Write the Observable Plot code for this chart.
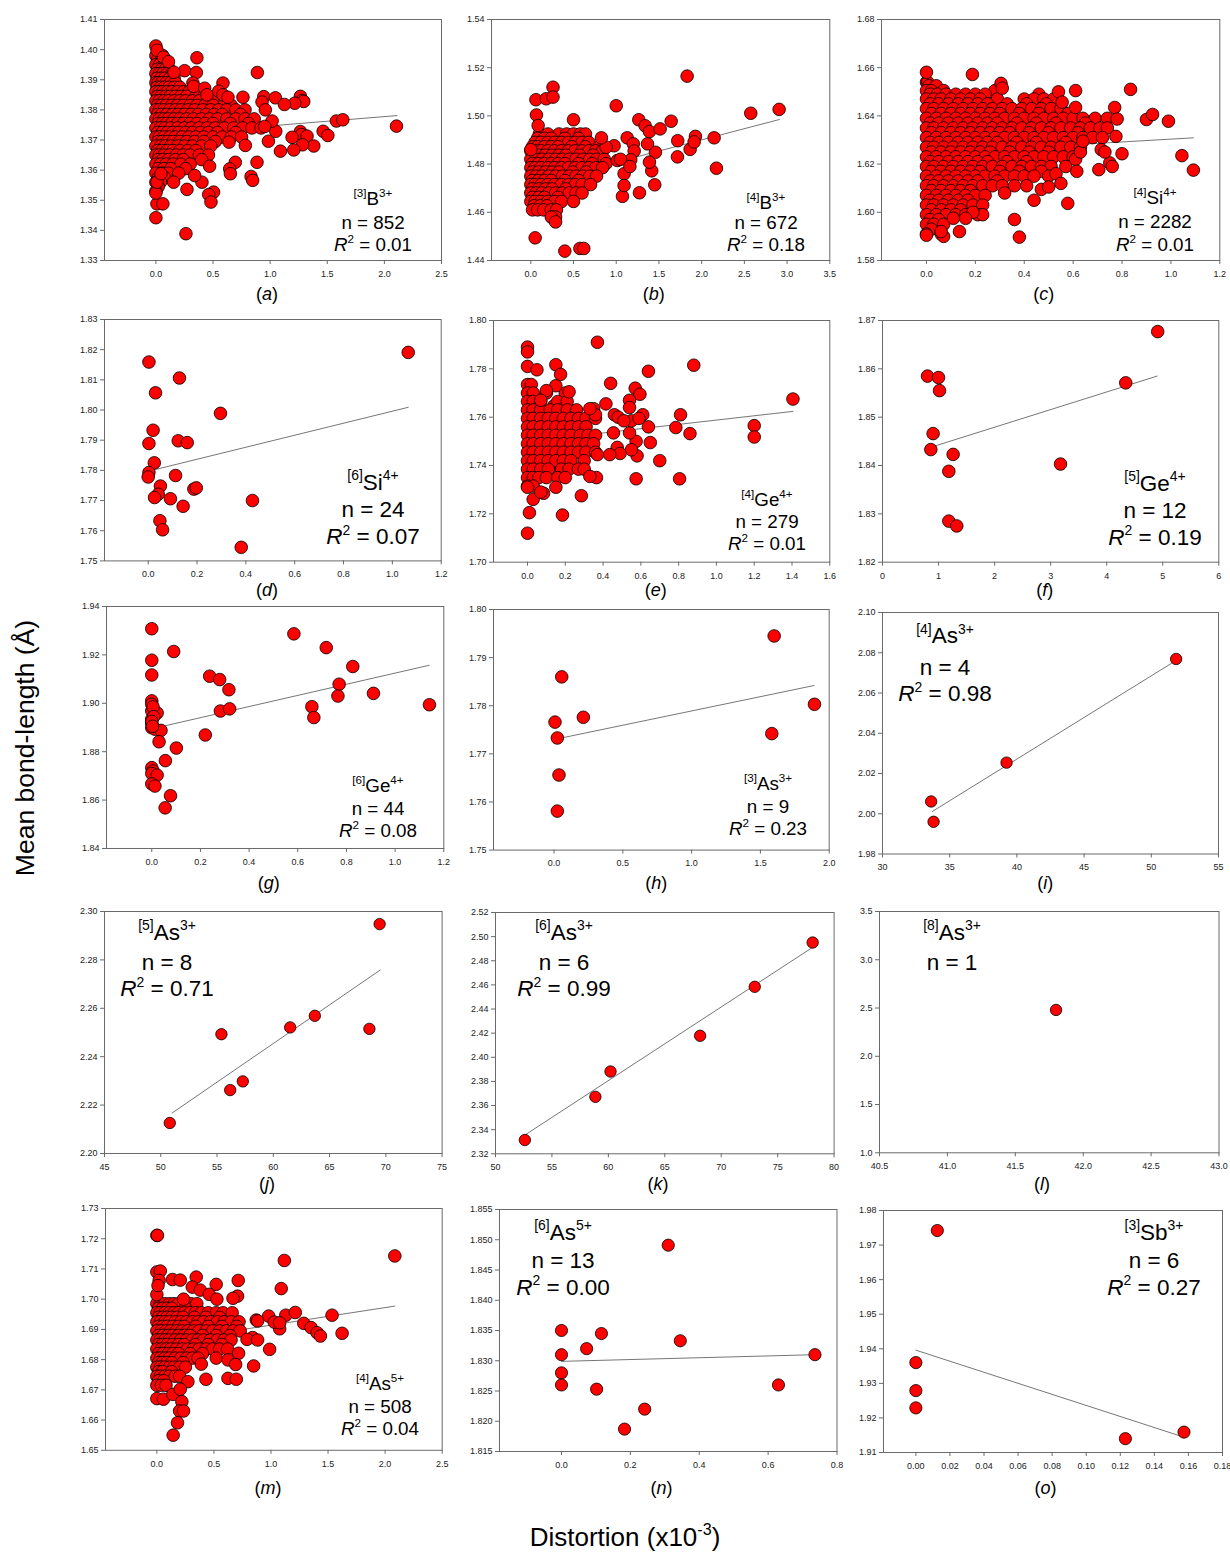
<!DOCTYPE html>
<html><head><meta charset="utf-8">
<script src="https://cdn.jsdelivr.net/npm/d3@7"></script>
<script src="https://cdn.jsdelivr.net/npm/@observablehq/plot@0.6"></script>
<style>
html,body{margin:0;padding:0;background:#fff;}
#chart{position:relative;width:1230px;height:1555px;overflow:hidden;background:#fff;}
</style>
</head><body><div id="chart"></div>
<script>
// ---------------- text content ----------------
const letters = ["a","b","c","d","e","f","g","h","i","j","k","l","m","n","o"];
const ionPre = ["[3]","[4]","[4]","[6]","[4]","[5]","[6]","[3]","[4]","[5]","[6]","[8]","[4]","[6]","[3]"];
const ionEl  = ["B","B","Si","Si","Ge","Ge","Ge","As","As","As","As","As","As","As","Sb"];
const ionCh  = ["3+","3+","4+","4+","4+","4+","4+","3+","3+","3+","3+","3+","5+","5+","3+"];
const nVals  = ["852","672","2282","24","279","12","44","9","4","8","6","1","508","13","6"];
const r2Vals = ["0.01","0.18","0.01","0.07","0.01","0.19","0.08","0.23","0.98","0.71","0.99",null,"0.04","0.00","0.27"];
const yTitle = "Mean bond-length (Å)";
const xTitle = ["Distortion (x10", "-3", ")"];

// ---------------- tick values ----------------
const a_xt=[0,0.5,1,1.5,2,2.5], a_yt=[1.33,1.34,1.35,1.36,1.37,1.38,1.39,1.40,1.41];
const b_xt=[0,0.5,1,1.5,2,2.5,3,3.5], b_yt=[1.44,1.46,1.48,1.50,1.52,1.54];
const c_xt=[0,0.2,0.4,0.6,0.8,1.0,1.2], c_yt=[1.58,1.60,1.62,1.64,1.66,1.68];
const d_xt=[0,0.2,0.4,0.6,0.8,1.0,1.2], d_yt=[1.75,1.76,1.77,1.78,1.79,1.80,1.81,1.82,1.83];
const e_xt=[0,0.2,0.4,0.6,0.8,1.0,1.2,1.4,1.6], e_yt=[1.70,1.72,1.74,1.76,1.78,1.80];
const f_xt=[0,1,2,3,4,5,6], f_yt=[1.82,1.83,1.84,1.85,1.86,1.87];
const g_xt=[0,0.2,0.4,0.6,0.8,1.0,1.2], g_yt=[1.84,1.86,1.88,1.90,1.92,1.94];
const h_xt=[0,0.5,1,1.5,2], h_yt=[1.75,1.76,1.77,1.78,1.79,1.80];
const i_xt=[30,35,40,45,50,55], i_yt=[1.98,2.00,2.02,2.04,2.06,2.08,2.10];
const j_xt=[45,50,55,60,65,70,75], j_yt=[2.20,2.22,2.24,2.26,2.28,2.30];
const k_xt=[50,55,60,65,70,75,80], k_yt=[2.32,2.34,2.36,2.38,2.40,2.42,2.44,2.46,2.48,2.50,2.52];
const l_xt=[40.5,41,41.5,42,42.5,43], l_yt=[1.0,1.5,2.0,2.5,3.0,3.5];
const m_xt=[0,0.5,1,1.5,2,2.5], m_yt=[1.65,1.66,1.67,1.68,1.69,1.70,1.71,1.72,1.73];
const n_xt=[0,0.2,0.4,0.6,0.8], n_yt=[1.815,1.820,1.825,1.830,1.835,1.840,1.845,1.850,1.855];
const o_xt=[0,0.02,0.04,0.06,0.08,0.10,0.12,0.14,0.16,0.18], o_yt=[1.91,1.92,1.93,1.94,1.95,1.96,1.97,1.98];

// ---------------- data (distortion, mean bond length) ----------------
// dense clouds: [y, [x values read along that level]]
const a_rows=[
[1.398,[0,0.03,0.06]],[1.395,[0,0.03,0.07,0.1]],[1.392,[0,0.03,0.06,0.1,0.14]],
[1.389,[0,0.02,0.05,0.09,0.13,0.17]],[1.386,[0,0.03,0.06,0.1,0.14,0.19,0.24,0.29]],
[1.383,[0,0.03,0.07,0.11,0.16,0.21,0.26,0.32,0.38,0.45,0.52,0.6]],
[1.380,[0,0.03,0.07,0.12,0.17,0.22,0.28,0.34,0.41,0.48,0.55,0.62,0.7,0.78]],
[1.377,[0,0.03,0.07,0.11,0.16,0.21,0.27,0.33,0.4,0.47,0.54,0.62,0.7,0.78,0.86]],
[1.374,[0,0.04,0.08,0.13,0.19,0.25,0.31,0.38,0.45,0.52,0.6,0.68,0.76,0.84,0.92]],
[1.371,[0,0.03,0.07,0.12,0.17,0.23,0.29,0.35,0.42,0.5,0.58,0.66,0.75]],
[1.368,[0,0.04,0.08,0.13,0.19,0.25,0.32,0.4,0.48]],
[1.365,[0,0.03,0.07,0.12,0.18,0.24,0.3,0.38,0.46]],
[1.362,[0,0.04,0.09,0.15,0.22,0.3]],[1.359,[0,0.05,0.11,0.2]],[1.356,[0,0.04]],[1.353,[0]]];
const a_rows2=[
[1.3965,[0.015,0.05,0.085]],[1.3935,[0.015,0.05,0.085,0.12]],[1.3905,[0.01,0.045,0.08,0.12,0.16]],
[1.3875,[0.01,0.04,0.075,0.115,0.16,0.21]],[1.3845,[0.015,0.045,0.085,0.125,0.17,0.22,0.27,0.35,0.42]],
[1.3815,[0.015,0.05,0.09,0.14,0.19,0.24,0.3,0.36,0.43,0.5,0.66]],
[1.3785,[0.015,0.05,0.095,0.145,0.195,0.25,0.31,0.37,0.44,0.51,0.58,0.74]],
[1.3755,[0.02,0.055,0.095,0.14,0.19,0.24,0.3,0.36,0.43,0.5,0.65,0.81]],
[1.3725,[0.015,0.055,0.1,0.15,0.2,0.26,0.32,0.39,0.46,0.54,0.7]],
[1.3695,[0.02,0.055,0.1,0.15,0.21,0.27,0.34,0.42,0.52]],
[1.3665,[0.015,0.05,0.1,0.15,0.21,0.28,0.35]],[1.3635,[0.02,0.06,0.11,0.17,0.24,0.4]],
[1.3605,[0.02,0.07,0.13,0.26]],[1.3575,[0.02,0.08]],[1.3545,[0.02]]];
const a_out=[[0,1.4012],[0.01,1.3998],[0.067,1.3975],[0.359,1.3973],[0.11,1.396],[0.251,1.393],[0.354,1.3924],[0.888,1.3924],[0.158,1.3925],[0.324,1.3889],[0.33,1.3878],[0.587,1.3889],[0.427,1.3872],[0.447,1.385],[0.55,1.3862],[0.587,1.385],[0.631,1.3842],[0.762,1.3842],[0.944,1.3844],[1.046,1.384],[1.265,1.3845],[1.28,1.3831],[1.294,1.3828],[1.215,1.3822],[1.125,1.3818],[0.929,1.3826],[0.958,1.38],[1.58,1.3763],[1.636,1.3767],[2.106,1.3746],[1.464,1.3729],[1.505,1.3715],[1.265,1.3728],[1.274,1.3718],[1.323,1.3713],[1.192,1.3709],[1.382,1.368],[1.283,1.3684],[1.207,1.3667],[1.09,1.3663],[0.985,1.3696],[1.049,1.3729],[1.017,1.3763],[0.952,1.3745],[0.885,1.3626],[0.783,1.3682],[0.695,1.3626],[0.646,1.3604],[0.652,1.3588],[0.833,1.3579],[0.847,1.3566],[0.64,1.3693],[0.47,1.3613],[0.505,1.3527],[0.462,1.3519],[0.482,1.3494],[0.403,1.356],[0.339,1.3582],[0.272,1.3536],[0.155,1.356],[0.263,1.3389],[0,1.3442],[0.009,1.3488],[0.061,1.3488],[0,1.3524],[0.009,1.356],[0.044,1.3588]];
const a_fit=[[0,1.3716],[2.11,1.3781]];

const b_rows=[
[1.4925,[0.1,0.2,0.33,0.42,0.5,0.58,0.64]],
[1.489,[0.05,0.12,0.2,0.28,0.36,0.44,0.52,0.6,0.68]],
[1.4855,[0,0.05,0.12,0.2,0.28,0.36,0.44,0.52,0.6,0.68,0.76,0.84]],
[1.482,[0,0.06,0.13,0.21,0.29,0.37,0.45,0.53,0.61,0.69,0.77,0.86]],
[1.4785,[0,0.05,0.12,0.2,0.28,0.36,0.44,0.52,0.6,0.68,0.76,0.84]],
[1.475,[0,0.06,0.13,0.21,0.29,0.37,0.45,0.53,0.61,0.69,0.77]],
[1.4715,[0,0.05,0.12,0.2,0.28,0.36,0.44,0.52,0.6,0.7]],
[1.468,[0,0.06,0.13,0.21,0.29,0.37,0.45,0.53,0.6]],
[1.4645,[0,0.05,0.12,0.2,0.28,0.36,0.5]],
[1.461,[0.02,0.08,0.15,0.24,0.3]],[1.458,[0.25,0.29]]];
const b_rows2=[
[1.4907,[0.08,0.16,0.24,0.4,0.56]],
[1.4872,[0.02,0.08,0.16,0.24,0.32,0.48,0.64,0.8]],
[1.4837,[0.02,0.09,0.17,0.25,0.33,0.41,0.57,0.73]],
[1.4802,[0.02,0.09,0.16,0.24,0.32,0.4,0.56,0.72,0.88]],
[1.4767,[0.02,0.09,0.17,0.25,0.33,0.49,0.65]],
[1.4732,[0.02,0.09,0.16,0.24,0.4,0.56]],
[1.4697,[0.02,0.09,0.17,0.25,0.41]],
[1.4662,[0.02,0.09,0.16,0.32]],[1.4627,[0.04,0.11,0.19]]];
const b_out=[[0,1.486],[0.06,1.5067],[0.066,1.5004],[0.086,1.496],[0.18,1.5071],[0.26,1.5119],[0.26,1.5078],[0.5,1.4984],[1.0,1.5042],[1.264,1.4984],[1.338,1.4959],[1.389,1.4935],[1.514,1.4946],[1.643,1.4978],[1.72,1.4897],[1.717,1.483],[1.865,1.4861],[1.927,1.4915],[1.912,1.4892],[2.146,1.4909],[2.173,1.4783],[2.575,1.5011],[2.907,1.5027],[1.83,1.5165],[1.128,1.4909],[1.272,1.4681],[1.451,1.4714],[1.416,1.4772],[1.459,1.4849],[1.389,1.4808],[1.366,1.4884],[1.2,1.4884],[1.21,1.4854],[1.17,1.4818],[1.092,1.476],[1.073,1.4666],[1.092,1.4711],[0.975,1.4876],[0.882,1.487],[0.827,1.4909],[1.014,1.4815],[0.051,1.4494],[0.398,1.4439],[0.575,1.445],[0.62,1.445],[0.24,1.458],[0.29,1.456],[1.05,1.482],[1.16,1.479]];
const b_fit=[[0,1.4715],[2.91,1.4985]];

const c_rows=[
[1.654,[0,0.005]],
[1.6505,[0,0.02,0.07,0.28]],
[1.647,[0,0.03,0.06,0.1,0.14,0.18,0.22,0.29,0.4,0.44,0.48,0.52]],
[1.643,[0,0.03,0.07,0.11,0.15,0.19,0.23,0.27,0.31,0.35,0.39,0.43,0.47,0.51,0.55]],
[1.639,[0,0.04,0.08,0.12,0.16,0.2,0.24,0.28,0.32,0.36,0.4,0.44,0.48,0.52,0.56,0.6,0.64,0.69,0.74]],
[1.635,[0,0.03,0.07,0.11,0.15,0.19,0.23,0.27,0.31,0.35,0.39,0.43,0.47,0.51,0.55,0.59,0.63,0.67,0.71,0.74]],
[1.631,[0,0.04,0.08,0.12,0.16,0.2,0.24,0.28,0.32,0.36,0.4,0.44,0.48,0.52,0.56,0.6,0.64,0.68,0.72]],
[1.627,[0,0.03,0.07,0.11,0.15,0.19,0.23,0.27,0.31,0.35,0.39,0.43,0.47,0.51,0.55,0.59,0.63]],
[1.623,[0,0.04,0.08,0.12,0.16,0.2,0.24,0.28,0.32,0.36,0.4,0.44,0.48,0.52,0.56,0.6]],
[1.619,[0,0.03,0.07,0.11,0.15,0.19,0.23,0.27,0.31,0.35,0.39,0.43,0.47,0.51,0.57]],
[1.615,[0,0.04,0.08,0.12,0.16,0.2,0.24,0.28,0.32,0.36,0.4,0.44,0.5]],
[1.611,[0,0.03,0.07,0.11,0.15,0.19,0.23,0.27,0.31,0.36,0.41]],
[1.607,[0,0.04,0.08,0.12,0.16,0.2,0.24]],
[1.603,[0,0.03,0.07,0.11,0.15,0.19,0.23]],
[1.599,[0,0.04,0.08,0.12,0.16,0.21]],
[1.595,[0,0.03,0.07]],[1.591,[0,0.06]]];
const c_rows2=[
[1.6525,[0.01,0.04]],
[1.649,[0.015,0.045,0.08,0.12,0.16,0.2,0.24,0.46]],
[1.645,[0.015,0.05,0.09,0.13,0.17,0.21,0.25,0.33,0.41,0.49]],
[1.641,[0.02,0.06,0.1,0.14,0.18,0.22,0.26,0.3,0.38,0.46,0.58]],
[1.637,[0.015,0.05,0.09,0.13,0.17,0.21,0.25,0.29,0.37,0.45,0.53,0.65]],
[1.633,[0.02,0.06,0.1,0.14,0.18,0.22,0.26,0.3,0.34,0.42,0.5,0.62]],
[1.629,[0.015,0.05,0.09,0.13,0.17,0.21,0.25,0.29,0.37,0.45,0.57]],
[1.625,[0.02,0.06,0.1,0.14,0.18,0.22,0.26,0.34,0.42,0.5]],
[1.621,[0.015,0.05,0.09,0.13,0.17,0.21,0.25,0.33,0.41]],
[1.617,[0.02,0.06,0.1,0.14,0.18,0.22,0.3,0.38,0.47]],
[1.613,[0.015,0.05,0.09,0.13,0.17,0.21,0.29]],
[1.609,[0.02,0.06,0.1,0.14,0.18]],
[1.605,[0.015,0.05,0.09,0.13,0.17]],
[1.601,[0.02,0.06,0.1,0.14]],
[1.597,[0.015,0.05]],[1.593,[0.02]]];
const c_out=[[0,1.6581],[0.188,1.6572],[0.835,1.651],[0.90,1.6385],[0.925,1.6406],[0.99,1.6378],[1.045,1.6235],[1.092,1.6175],[0.8,1.6243],[0.705,1.6177],[0.75,1.6205],[0.76,1.619],[0.44,1.605],[0.578,1.6037],[0.36,1.597],[0.38,1.5897],[0.135,1.592],[0.305,1.6535],[0.31,1.6515],[0.54,1.650],[0.61,1.6505],[0.555,1.6457],[0.61,1.6435],[0.77,1.6435],[0.78,1.6387],[0.775,1.6315],[0.715,1.626],[0.73,1.625],[0.61,1.622],[0.615,1.617],[0.63,1.625],[0.64,1.6295],[0.53,1.616],[0.55,1.612],[0.47,1.6095],[0.5,1.6105],[0.32,1.608],[0.23,1.599],[0.19,1.6],[0.16,1.5975],[0.11,1.5975],[0.07,1.59],[0.0,1.5905],[0.06,1.592]];
const c_fit=[[0,1.6245],[1.092,1.6309]];

const d_pts=[[0.003,1.8159],[0.128,1.8106],[0.030,1.8057],[0.296,1.7989],[0.020,1.7933],[0.003,1.7889],[0.123,1.7898],[0.160,1.7892],[0.025,1.7825],[0.003,1.7793],[0.0,1.7778],[0.112,1.7783],[0.050,1.7748],[0.041,1.7721],[0.026,1.7710],[0.187,1.7738],[0.197,1.7742],[0.091,1.7706],[0.143,1.7681],[0.048,1.7633],[0.059,1.7603],[0.427,1.7700],[0.381,1.7545],[1.065,1.8191]];
const d_fit=[[0.02,1.7801],[1.065,1.8009]];

const e_rows=[
[1.7735,[0,0.02]],[1.770,[0,0.03,0.1,0.2]],[1.7665,[0,0.03,0.07,0.16,0.21]],
[1.763,[0,0.03,0.07,0.12,0.16,0.21,0.26]],
[1.7595,[0,0.03,0.07,0.11,0.15,0.19,0.23,0.27,0.31,0.36]],
[1.756,[0,0.03,0.07,0.11,0.15,0.19,0.23,0.27,0.31]],
[1.7525,[0,0.03,0.07,0.11,0.15,0.19,0.23,0.28,0.32,0.36]],
[1.749,[0,0.03,0.07,0.11,0.15,0.19,0.23,0.27,0.31,0.35]],
[1.7455,[0,0.03,0.07,0.11,0.15,0.19,0.23,0.27,0.31,0.36]],
[1.742,[0,0.03,0.07,0.11,0.15,0.19,0.23,0.3]],
[1.7385,[0,0.03,0.07,0.11,0.18,0.22,0.27,0.3]],
[1.735,[0,0.03,0.06,0.1,0.16,0.2]],[1.7315,[0,0.03]]];
const e_rows2=[
[1.7647,[0.015,0.05,0.14]],[1.7612,[0.015,0.05,0.13,0.21]],[1.7577,[0.015,0.09,0.17,0.25]],
[1.7542,[0.015,0.05,0.13,0.21]],[1.7507,[0.015,0.09,0.17,0.25]],[1.7472,[0.015,0.05,0.13,0.21]],
[1.7437,[0.015,0.09,0.17]],[1.7402,[0.015,0.05,0.14]],[1.7367,[0.015,0.08]]];
const e_out=[[0,1.789],[0,1.787],[0,1.781],[0.37,1.791],[0.15,1.7817],[0.175,1.7777],[0.05,1.7796],[0.64,1.779],[0.88,1.7815],[1.405,1.7675],[1.2,1.7565],[1.2,1.7518],[0.86,1.7532],[0.81,1.761],[0.785,1.7557],[0.805,1.7345],[0.7,1.742],[0.65,1.7495],[0.575,1.7345],[0.58,1.744],[0.575,1.75],[0.55,1.7465],[0.54,1.7535],[0.55,1.7585],[0.64,1.756],[0.61,1.761],[0.59,1.7595],[0.57,1.772],[0.595,1.7695],[0.54,1.767],[0.54,1.764],[0.44,1.774],[0.415,1.7655],[0.46,1.761],[0.48,1.76],[0.51,1.7585],[0.455,1.7535],[0.475,1.7475],[0.49,1.745],[0.435,1.7445],[0.37,1.7445],[0.365,1.735],[0.33,1.7355],[0.285,1.7275],[0.185,1.7195],[0.01,1.7205],[0.0,1.712],[0.03,1.726],[0.085,1.7285],[0.07,1.729],[0.15,1.731],[0.0,1.731],[0.35,1.7635],[0.36,1.761],[0.33,1.7635],[0.22,1.7705],[0.15,1.773],[0.1,1.771],[0.07,1.767]];
const e_fit=[[0,1.7499],[1.405,1.7624]];

const f_pts=[[0.803,1.8585],[0.999,1.8582],[1.017,1.8555],[0.903,1.8466],[0.862,1.8433],[1.26,1.8423],[1.183,1.8388],[1.183,1.8285],[1.325,1.8275],[3.176,1.8403],[4.34,1.8571],[4.91,1.8677]];
const f_fit=[[0.87,1.8438],[4.9,1.8585]];

const g_pts=[[0.0,1.9308],[0.0,1.9178],[0.0,1.9117],[0.090,1.9214],[0.584,1.9287],[0.717,1.9230],[0.826,1.9152],[0.238,1.9112],[0.279,1.9098],[0.317,1.9056],[0.770,1.9079],[0.765,1.9030],[0.911,1.9041],[1.141,1.8994],[0.658,1.8986],[0.666,1.8941],[0.282,1.8968],[0.320,1.8977],[0.220,1.8869],[0.0,1.9010],[0.0,1.8996],[0.0,1.8968],[0.012,1.8955],[0.022,1.8960],[0.0,1.8934],[0.0,1.8917],[0.0,1.8899],[0.014,1.8893],[0.038,1.8888],[0.030,1.8841],[0.101,1.8815],[0.056,1.8763],[0.0,1.8734],[0.005,1.8720],[0.0,1.8710],[0.022,1.8703],[0.0,1.8667],[0.013,1.8658],[0.077,1.8618],[0.055,1.8568],[0.005,1.8985],[0.008,1.8945],[0.0,1.8925],[0.003,1.8905]];
const g_fit=[[0.05,1.8906],[1.14,1.9157]];

const h_pts=[[0.007,1.7766],[0.024,1.7733],[0.036,1.7656],[0.024,1.7581],[0.056,1.786],[0.213,1.7776],[1.583,1.7742],[1.6,1.7945],[1.893,1.7803]];
const h_fit=[[0.02,1.7731],[1.89,1.7842]];

const i_pts=[[33.62,2.0061],[33.8,1.996],[39.23,2.0254],[51.85,2.0769]];
const i_fit=[[33.7,2.0011],[51.9,2.0764]];

const j_pts=[[50.8,2.2126],[55.39,2.2493],[56.17,2.2262],[57.29,2.2298],[61.5,2.2521],[63.69,2.2569],[68.54,2.2515],[69.45,2.2948]];
const j_fit=[[51.0,2.2167],[69.5,2.2758]];

const k_pts=[[52.6,2.3314],[58.85,2.3672],[60.19,2.3882],[68.13,2.4178],[72.97,2.4584],[78.1,2.4951]];
const k_fit=[[52.5,2.3349],[78.0,2.4905]];

const l_pts=[[41.8,2.48]];

const m_rows=[
[1.6985,[0,0.03,0.07,0.11,0.15,0.19,0.3,0.35]],
[1.6955,[0,0.03,0.07,0.11,0.15,0.19,0.24,0.29,0.34,0.39,0.45,0.52,0.58,0.66]],
[1.6925,[0,0.03,0.07,0.11,0.16,0.21,0.26,0.31,0.36,0.41,0.47,0.53,0.59,0.65,0.72]],
[1.6895,[0,0.04,0.08,0.12,0.17,0.22,0.27,0.32,0.37,0.43,0.49,0.55,0.61,0.67,0.73]],
[1.6865,[0,0.03,0.07,0.11,0.16,0.21,0.26,0.31,0.36,0.41,0.47,0.53,0.59,0.65]],
[1.6835,[0,0.04,0.08,0.12,0.17,0.22,0.27,0.32,0.37,0.43,0.49,0.55,0.62]],
[1.6805,[0,0.03,0.07,0.11,0.16,0.21,0.26,0.31,0.36,0.52]],
[1.6775,[0,0.03,0.07,0.11,0.15,0.2,0.25]],
[1.6745,[0,0.03,0.07,0.11,0.16,0.2]],[1.6715,[0,0.04,0.08]]];
const m_rows2=[
[1.697,[0.015,0.05,0.09,0.13,0.25]],
[1.694,[0.015,0.05,0.09,0.13,0.18,0.23,0.33,0.43,0.55]],
[1.691,[0.015,0.05,0.09,0.14,0.19,0.24,0.34,0.45,0.57,0.7]],
[1.688,[0.015,0.055,0.1,0.14,0.19,0.24,0.29,0.4,0.52,0.64]],
[1.685,[0.015,0.05,0.09,0.14,0.19,0.24,0.34,0.45,0.57]],
[1.682,[0.015,0.055,0.1,0.14,0.19,0.29,0.4]],
[1.679,[0.015,0.05,0.09,0.13,0.23]],
[1.676,[0.015,0.05,0.13]],[1.673,[0.015,0.06]]];
const m_out=[[0,1.7211],[0.005,1.7211],[0,1.709],[0.03,1.7093],[0.02,1.7062],[0,1.7015],[0.01,1.7045],[0.137,1.7065],[0.205,1.7063],[0.345,1.7073],[0.31,1.704],[0.38,1.703],[0.52,1.7049],[0.713,1.7062],[0.707,1.701],[0.667,1.7003],[0.459,1.7016],[0.526,1.700],[0.234,1.700],[1.117,1.7128],[1.09,1.7035],[2.085,1.7143],[1.13,1.6947],[1.213,1.6956],[1.535,1.6947],[1.287,1.692],[1.351,1.6906],[1.404,1.6889],[1.433,1.6878],[1.623,1.6887],[1.076,1.6902],[0.98,1.6944],[1.029,1.6924],[1.076,1.6922],[0.871,1.6931],[0.883,1.6928],[0.839,1.6873],[0.79,1.6867],[0.883,1.6865],[0.988,1.6834],[0.848,1.6779],[0.43,1.6735],[0.623,1.6738],[0.696,1.6735],[0.272,1.6727],[0,1.6671],[0.058,1.6669],[0.14,1.6685],[0.205,1.6702],[0.219,1.6661],[0.199,1.663],[0.234,1.663],[0.181,1.6591],[0.143,1.655],[0.389,1.6785],[0.623,1.6799],[0.716,1.6821],[0.69,1.6784]];
const m_fit=[[0,1.6856],[2.084,1.6977]];

const n_pts=[[0,1.835],[0,1.831],[0,1.828],[0,1.826],[0.073,1.832],[0.116,1.8345],[0.102,1.8253],[0.183,1.8187],[0.2415,1.822],[0.31,1.8491],[0.345,1.8333],[0.63,1.826],[0.736,1.831]];
const n_fit=[[0,1.8299],[0.736,1.8310]];

const o_pts=[[0,1.936],[0,1.9279],[0,1.9229],[0.0126,1.9742],[0.123,1.914],[0.1574,1.9159]];
const o_fit=[[0,1.9396],[0.157,1.9145]];

// ---------------- helpers ----------------
const FONT = "'Liberation Sans', Arial, Helvetica, sans-serif";
const fromRows = rows => rows.flatMap(([y, xs]) => xs.map(x => [x, y]));
// interleave the two sets of levels so the overlap order is mixed
const cloud = (r1, r2, out) => {
  const res = [];
  const n = Math.max(r1.length, r2.length);
  for (let k = 0; k < n; k++) {
    if (r1[k]) res.push(...fromRows([r1[k]]));
    if (r2[k]) res.push(...fromRows([r2[k]]));
  }
  return [...res, ...out];
};

const panels = [
 {frame:[104,441,19,260],      xd:[-0.45,2.5],  yd:[1.33,1.41], xt:a_xt, yt:a_yt, xf:".1f", yf:".2f", data:cloud(a_rows,a_rows2,a_out), fit:a_fit, r:6.3, ann:{cx:373,ys:[198,222,244.3],fs:18.8}},
 {frame:[490.7,829,19,260],    xd:[-0.46,3.5],  yd:[1.44,1.54], xt:b_xt, yt:b_yt, xf:".1f", yf:".2f", data:cloud(b_rows,b_rows2,b_out), fit:b_fit, r:6.3, ann:{cx:766,ys:[202,222.3,244.3],fs:18.8}},
 {frame:[880.7,1219,19,260],   xd:[-0.184,1.2], yd:[1.58,1.68], xt:c_xt, yt:c_yt, xf:".1f", yf:".2f", data:cloud(c_rows,c_rows2,c_out), fit:c_fit, r:6.3, ann:{cx:1155,ys:[197,221.7,244.3],fs:18.8}},
 {frame:[104,440.7,319.3,560.7],xd:[-0.179,1.2],yd:[1.75,1.83], xt:d_xt, yt:d_yt, xf:".1f", yf:".2f", data:d_pts, fit:d_fit, r:6.3, ann:{cx:373,ys:[481.7,509.3,536],fs:22.5}},
 {frame:[492.7,829,320,561.7], xd:[-0.18,1.6],  yd:[1.70,1.80], xt:e_xt, yt:e_yt, xf:".1f", yf:".2f", data:cloud(e_rows,e_rows2,e_out), fit:e_fit, r:6.3, ann:{cx:767,ys:[499.3,521.7,543.3],fs:18.8}},
 {frame:[881.7,1218,320,561.7],xd:[0,6],        yd:[1.82,1.87], xt:f_xt, yt:f_yt, xf:"d",   yf:".2f", data:f_pts, fit:f_fit, r:6.3, ann:{cx:1155,ys:[482.7,510,536.7],fs:22.5}},
 {frame:[105.7,443,606,848],   xd:[-0.186,1.2], yd:[1.84,1.94], xt:g_xt, yt:g_yt, xf:".1f", yf:".2f", data:g_pts, fit:g_fit, r:6.3, ann:{cx:378,ys:[785,808.3,830],fs:18.8}},
 {frame:[493.3,829,608.7,849.3],xd:[-0.44,2.0], yd:[1.75,1.80], xt:h_xt, yt:h_yt, xf:".1f", yf:".2f", data:h_pts, fit:h_fit, r:6.3, ann:{cx:768,ys:[783.3,806,828.3],fs:18.8}},
 {frame:[882.3,1218.3,612,853.5],xd:[30,55],    yd:[1.98,2.10], xt:i_xt, yt:i_yt, xf:"d",   yf:".2f", data:i_pts, fit:i_fit, r:5.7, ann:{cx:945,ys:[635,666.7,693.3],fs:22.5}},
 {frame:[104,441.6,910.7,1152.7],xd:[45,75],    yd:[2.20,2.30], xt:j_xt, yt:j_yt, xf:"d",   yf:".2f", data:j_pts, fit:j_fit, r:5.7, ann:{cx:167,ys:[931.7,961.7,988.3],fs:22.5}},
 {frame:[495,833.6,911.7,1153], xd:[50,80],     yd:[2.32,2.52], xt:k_xt, yt:k_yt, xf:"d",   yf:".2f", data:k_pts, fit:k_fit, r:5.7, ann:{cx:564,ys:[931.7,961.7,988.3],fs:22.5}},
 {frame:[879,1218.5,910.7,1152],xd:[40.5,43],   yd:[1.0,3.5],   xt:l_xt, yt:l_yt, xf:".1f", yf:".1f", data:l_pts, fit:null,  r:5.7, ann:{cx:952,ys:[931.7,961.7],fs:22.5}},
 {frame:[105,441.7,1207.5,1449.3],xd:[-0.45,2.5],yd:[1.65,1.73],xt:m_xt, yt:m_yt, xf:".1f", yf:".2f", data:cloud(m_rows,m_rows2,m_out), fit:m_fit, r:6.3, ann:{cx:380,ys:[1383.3,1406,1428.3],fs:18.8}},
 {frame:[498.5,836,1209,1451], xd:[-0.18,0.8],  yd:[1.815,1.855],xt:n_xt,yt:n_yt, xf:".1f", yf:".3f", data:n_pts, fit:n_fit, r:6.1, ann:{cx:563,ys:[1231.7,1260,1286.7],fs:22.5}},
 {frame:[882.5,1221.5,1209.7,1451.7],xd:[-0.019,0.18],yd:[1.91,1.98],xt:o_xt,yt:o_yt,xf:".2f", yf:".2f", data:o_pts, fit:o_fit, r:6.1, ann:{cx:1154,ys:[1231.7,1260,1286.7],fs:22.5}}
];
const labelRowY = [295,295,295,591,591,591,884,884,884,1185,1185,1185,1489,1489,1489];

const root = document.getElementById("chart");
const mL = 44, mR = 14, mT = 14, mB = 30;
const AX = "#6a6a6a";

panels.forEach((p, idx) => {
  const [L, R, T, B] = p.frame;
  const marks = [
    Plot.axisX({ticks: p.xt, tickFormat: p.xf, tickSize: 4, tickPadding: 6, stroke: AX, fill: "#222", label: null}),
    Plot.axisY({ticks: p.yt, tickFormat: p.yf, tickSize: 4, tickPadding: 3, stroke: AX, fill: "#222", label: null}),
  ];
  if (p.fit) marks.push(Plot.line(p.fit, {x: d => d[0], y: d => d[1], stroke: "#666", strokeWidth: 0.9}));
  marks.push(Plot.dot(p.data, {x: d => d[0], y: d => d[1], r: p.r, fill: "#ff0000", stroke: "#000", strokeWidth: 0.8}));
  marks.push(Plot.frame({stroke: AX, strokeWidth: 1}));
  const svg = Plot.plot({
    width: (R - L) + mL + mR, height: (B - T) + mT + mB,
    marginLeft: mL, marginRight: mR, marginTop: mT, marginBottom: mB,
    x: {domain: p.xd}, y: {domain: p.yd},
    style: {fontFamily: FONT, fontSize: "9px", color: "#222", background: "transparent", overflow: "visible"},
    marks
  });
  svg.style.position = "absolute";
  svg.style.left = (L - mL) + "px";
  svg.style.top = (T - mT) + "px";
  svg.style.maxWidth = "none";
  root.appendChild(svg);
});

// overlay for annotations, panel letters and axis titles
const ov = d3.select(root).append("svg")
  .attr("width", 1230).attr("height", 1555)
  .style("position", "absolute").style("left", "0px").style("top", "0px")
  .style("pointer-events", "none")
  .attr("font-family", FONT);

function rich(x, y, fs, parts, rotate) {
  const t = ov.append("text").attr("x", x).attr("y", y).attr("font-size", fs)
    .attr("text-anchor", "middle").attr("fill", "#000").style("white-space", "pre");
  if (rotate) t.attr("transform", `rotate(${rotate},${x},${y})`);
  const up = fs * 0.42, ss = fs * 0.62;
  let raised = false;
  for (const q of parts) {
    const s = t.append("tspan").text(q.t);
    if (q.sup) { s.attr("font-size", ss); if (!raised) { s.attr("dy", -up); raised = true; } }
    else if (raised) { s.attr("dy", up); raised = false; }
    if (q.it) s.attr("font-style", "italic");
  }
  return t;
}

panels.forEach((p, i) => {
  const {cx, ys, fs} = p.ann;
  const b = fs * 0.36;
  rich(cx, ys[0] + b, fs, [{t: ionPre[i], sup: true}, {t: ionEl[i]}, {t: ionCh[i], sup: true}]);
  rich(cx, ys[1] + b, fs, [{t: "n = " + nVals[i]}]);
  if (r2Vals[i] !== null) rich(cx, ys[2] + b, fs, [{t: "R", it: true}, {t: "2", sup: true}, {t: " = " + r2Vals[i]}]);
  rich(p.frame[0] + 163, labelRowY[i] + 5, 18, [{t: "("}, {t: letters[i], it: true}, {t: ")"}]);
});

rich(34, 748, 26.5, [{t: yTitle}], -90);
rich(625, 1546, 26, [{t: xTitle[0]}, {t: xTitle[1], sup: true}, {t: xTitle[2]}]);
</script>
</body></html>
